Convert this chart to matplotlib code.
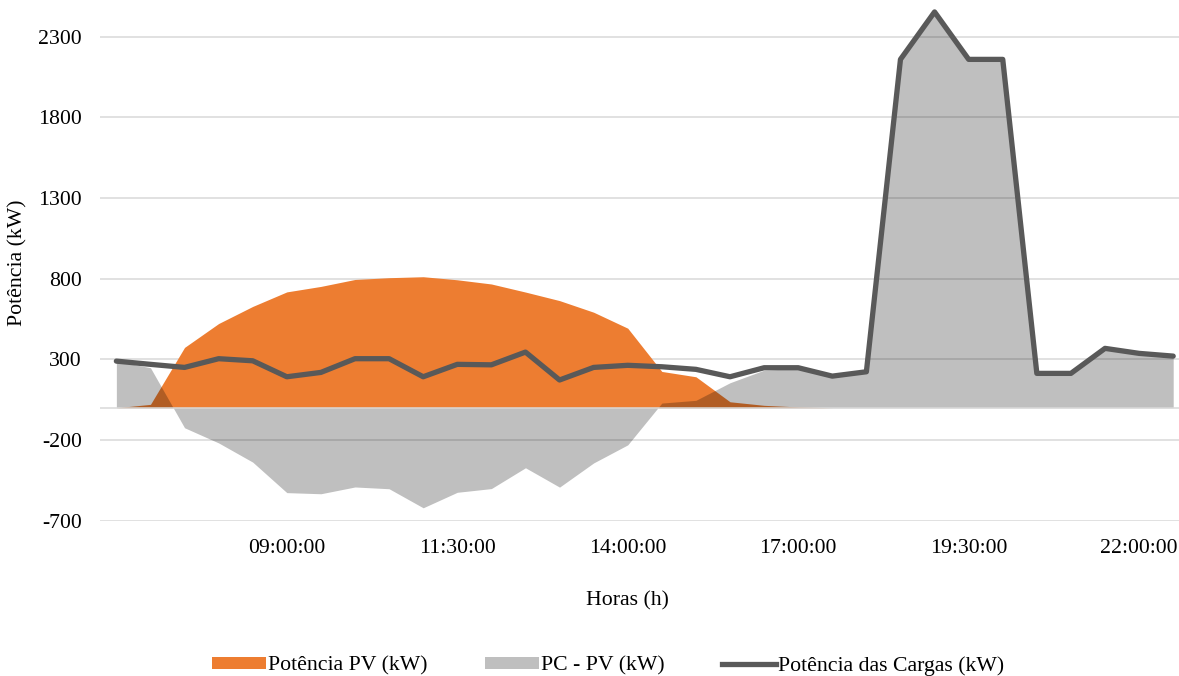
import matplotlib
matplotlib.use("Agg")
import matplotlib.pyplot as plt
from matplotlib.patches import Patch
from matplotlib.lines import Line2D
import numpy as np

plt.rcParams['font.family'] = ['Liberation Serif', 'DejaVu Serif']

# ---- data ----
n_points = 32
tick_index = [5, 10, 15, 20, 25, 30]
tick_labels = ['09:00:00', '11:30:00', '14:00:00', '17:00:00', '19:30:00', '22:00:00']

pv = [0, 21, 374, 522, 628, 718, 752, 795, 806, 812, 793, 767, 717, 664, 592, 493,
      225, 192, 37, 15, 5, 0, 0, 0, 0, 0, 0, 0, 0, 0, 0, 0]
pc_minus_pv = [289, 248, -124, -218, -337, -526, -533, -491, -502, -620, -524, -501,
               -372, -492, -342, -230, 29, 46, 155, 233, 243, 196, 223, 2159, 2453,
               2159, 2159, 213, 213, 368, 337, 320]
load = [289, 269, 250, 304, 291, 192, 219, 304, 304, 192, 269, 266, 345, 172, 250, 263,
        254, 238, 192, 248, 248, 196, 223, 2159, 2453, 2159, 2159, 213, 213, 368, 337, 320]
yticks = [-700, -200, 300, 800, 1300, 1800, 2300]

labels = ['Potência PV (kW)', 'PC - PV (kW)', 'Potência das Cargas (kW)']
orange = '#ED7D31'
dark = '#595959'
grid = '#D9D9D9'
FS = 15.7

W, H = 1179, 676
fig = plt.figure(figsize=(W / 100, H / 100), dpi=100)
left_px, right_px, top_px, bottom_px = 100, 1179, 0, 520.7
ax = fig.add_axes([left_px / W, 1 - bottom_px / H,
                   (right_px - left_px) / W, (bottom_px - top_px) / H])

x = np.arange(n_points)
ax.fill_between(x, 0, pv, color=orange, lw=0, zorder=1)
ax.fill_between(x, 0, pc_minus_pv, color='black', alpha=0.25, lw=0, zorder=2)
ax.axhline(0, color=grid, lw=1.1, zorder=3)
ax.plot(x, load, color=dark, lw=3.8, solid_capstyle='round',
        solid_joinstyle='round', zorder=4, clip_on=False)

ax.set_xlim(-0.48, 31.17)
ax.set_ylim(-700, 2527)
ax.set_yticks(yticks)
ax.set_yticklabels([str(v) for v in yticks])
ax.set_xticks(tick_index)
ax.set_xticklabels(tick_labels)
ax.yaxis.grid(True, color=grid, lw=1.1, zorder=0)
ax.set_axisbelow(True)
for s in ax.spines.values():
    s.set_visible(False)
ax.tick_params(axis='y', length=0, pad=13, labelsize=FS, colors='black')
ax.tick_params(axis='x', length=0, pad=13, labelsize=FS, colors='black')

fig.text(627 / W, 1 - 601 / H, 'Horas (h)', ha='center', va='center', fontsize=FS)
fig.text(18 / W, 1 - 263 / H, 'Potência (kW)', ha='center', va='center',
         rotation=90, fontsize=FS)

handles = [Patch(facecolor=orange, edgecolor='none'),
           Patch(facecolor='#BFBFBF', edgecolor='none'),
           Line2D([0], [0], color=dark, lw=3.8)]
fig.legend(handles, labels, loc='center', bbox_to_anchor=(608 / W, 1 - 666 / H),
           ncol=3, frameon=False, fontsize=FS, handlelength=2.5, handleheight=0.5,
           handletextpad=0.1, columnspacing=2.6, borderpad=0, borderaxespad=0)

fig.savefig('out.png', dpi=100)
